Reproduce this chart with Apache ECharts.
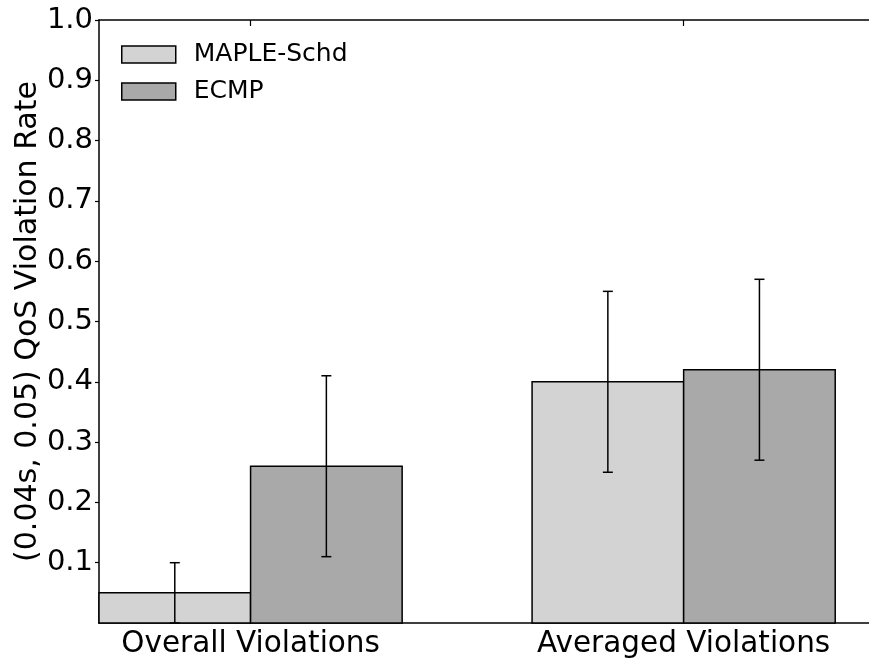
<!DOCTYPE html>
<html>
<head>
<meta charset="utf-8">
<script src="https://cdn.jsdelivr.net/npm/echarts@6/dist/echarts.min.js"></script>
<style>html,body{margin:0;padding:0;background:#fff;}#c{width:869px;height:661px;}</style>
</head>
<body>
<div id="c"></div>
<script>
var categories = ['Overall Violations', 'Averaged Violations'];
var seriesNames = ['MAPLE-Schd', 'ECMP'];
var mapleValues = [0.05, 0.40];
var mapleErr = [0.05, 0.15];
var ecmpValues = [0.26, 0.42];
var ecmpErr = [0.15, 0.15];
var yTicks = [0.1, 0.2, 0.3, 0.4, 0.5, 0.6, 0.7, 0.8, 0.9, 1.0];

var FONT = 'DejaVu Sans';
var BAR_W = 0.35;

function makeData(vals, errs) {
  return vals.map(function (v, i) { return [i, v, errs[i]]; });
}

function renderer(offsetSign, fill) {
  return function (params, api) {
    var x = api.value(0), v = api.value(1), e = api.value(2);
    var x0 = offsetSign < 0 ? x - BAR_W : x;
    var x1 = offsetSign < 0 ? x : x + BAR_W;
    var xc = (x0 + x1) / 2;
    var pTL = api.coord([x0, v]);
    var pBR = api.coord([x1, 0]);
    var eTop = api.coord([xc, v + e]);
    var eBot = api.coord([xc, Math.max(0, v - e)]);
    var cap = 5;
    var ls = { stroke: '#000', lineWidth: 1.5 };
    return {
      type: 'group',
      children: [
        { type: 'rect', shape: { x: pTL[0], y: pTL[1], width: pBR[0] - pTL[0], height: pBR[1] - pTL[1] },
          style: { fill: fill, stroke: '#000', lineWidth: 1.5 } },
        { type: 'line', shape: { x1: eTop[0], y1: eTop[1], x2: eBot[0], y2: eBot[1] }, style: ls },
        { type: 'line', shape: { x1: eTop[0] - cap, y1: eTop[1], x2: eTop[0] + cap, y2: eTop[1] }, style: ls },
        { type: 'line', shape: { x1: eBot[0] - cap, y1: eBot[1], x2: eBot[0] + cap, y2: eBot[1] }, style: ls }
      ]
    };
  };
}

var chart = echarts.init(document.getElementById('c'), null, { renderer: 'canvas' });
var xMin = -BAR_W, xMax = 1.428;
chart.setOption({
  animation: false,
  backgroundColor: '#fff',
  textStyle: { fontFamily: FONT },
  grid: { left: 99, right: 0, top: 20, bottom: 38, containLabel: false },
  legend: {
    orient: 'vertical', left: 121, top: 42, padding: 0,
    itemWidth: 54, itemHeight: 17, itemGap: 12,
    textStyle: { fontFamily: FONT, fontSize: 25, color: '#000', lineHeight: 25, padding: [0, 0, 0, 13] },
    data: [
      { name: seriesNames[0], icon: 'rect', itemStyle: { color: '#d3d3d3', borderColor: '#000', borderWidth: 1.5 } },
      { name: seriesNames[1], icon: 'rect', itemStyle: { color: '#a9a9a9', borderColor: '#000', borderWidth: 1.5 } }
    ]
  },
  xAxis: [
    {
      type: 'value', position: 'bottom', min: xMin, max: xMax,
      axisLine: { show: true, onZero: false, lineStyle: { color: '#000', width: 1.5 } },
      axisTick: { show: false },
      splitLine: { show: false },
      axisLabel: {
        customValues: [0, 1], margin: 6, color: '#000', fontFamily: FONT, fontSize: 29.5,
        formatter: function (v) { return categories[Math.round(v)]; }
      }
    },
    {
      type: 'value', position: 'top', min: xMin, max: xMax,
      axisLine: { show: true, onZero: false, lineStyle: { color: '#000', width: 1.5 } },
      axisTick: { show: true, inside: true, length: 6, customValues: [0, 1], lineStyle: { color: '#000', width: 1.2 } },
      splitLine: { show: false },
      axisLabel: { show: false }
    }
  ],
  yAxis: {
    type: 'value', min: 0, max: 1, interval: 0.1,
    name: '(0.04s, 0.05) QoS Violation Rate', nameLocation: 'middle', nameGap: 56,
    nameMoveOverlap: false,
    nameTextStyle: { fontFamily: FONT, fontSize: 30, color: '#000' },
    axisLine: { show: true, onZero: false, lineStyle: { color: '#000', width: 1.5 } },
    axisTick: { show: true, inside: false, length: 4, customValues: yTicks, lineStyle: { color: '#000', width: 1.2 } },
    splitLine: { show: false },
    axisLabel: {
      customValues: yTicks, margin: 6, color: '#000', fontFamily: FONT, fontSize: 29,
      formatter: function (v) { return v.toFixed(1); }
    }
  },
  series: [
    { name: seriesNames[0], type: 'custom', itemStyle: { color: '#d3d3d3' },
      renderItem: renderer(-1, '#d3d3d3'), data: makeData(mapleValues, mapleErr), encode: { x: 0, y: 1 } },
    { name: seriesNames[1], type: 'custom', itemStyle: { color: '#a9a9a9' },
      renderItem: renderer(1, '#a9a9a9'), data: makeData(ecmpValues, ecmpErr), encode: { x: 0, y: 1 } }
  ]
});
</script>
</body>
</html>
